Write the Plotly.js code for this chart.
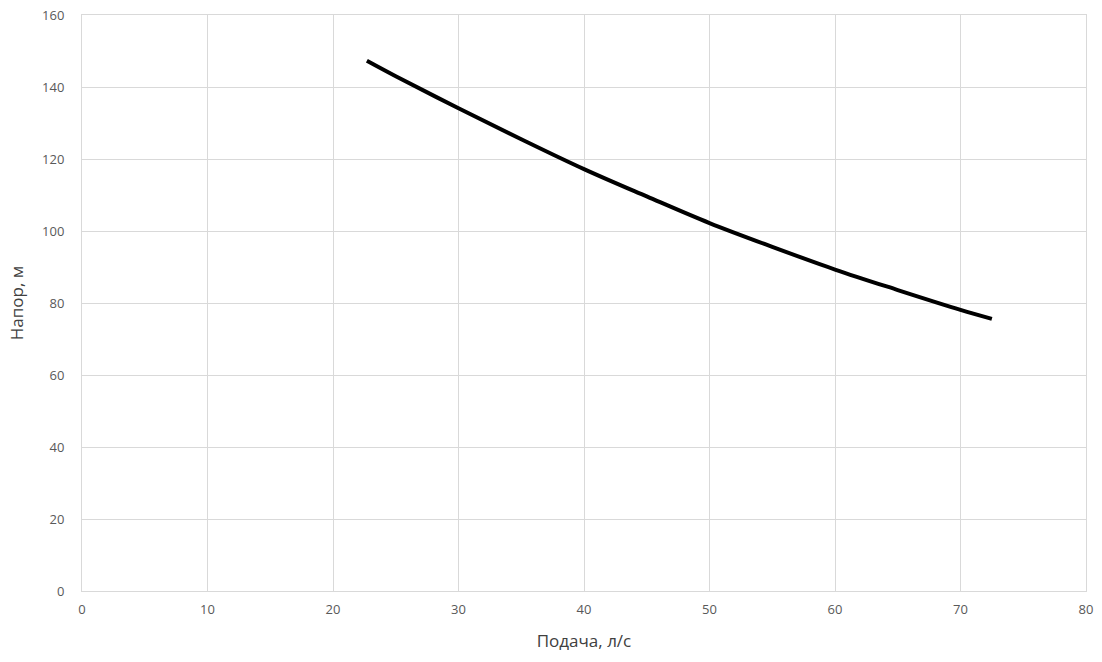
<!DOCTYPE html>
<html>
<head>
<meta charset="utf-8">
<script src="https://cdn.plot.ly/plotly-3.0.1.min.js"></script>
<style>html,body{margin:0;padding:0;background:#fff;}#chart{width:1102px;height:662px;}</style>
</head>
<body>
<div id="chart"></div>
<script>
const flow = [22.7, 25, 30, 35, 40, 45, 50, 55, 60, 65, 70, 72.5];
const head = [147.3, 143.0, 134.1, 125.5, 117.2, 109.6, 102.2, 95.6, 89.3, 83.6, 78.1, 75.6];
const xTitle = 'Подача, л/с';
const yTitle = 'Напор, м';

const grid = '#d9d9d9';
const tickFont = {family: 'Open Sans, sans-serif', size: 13, color: '#595959'};
const titleFont = {family: 'Open Sans, sans-serif', size: 17, color: '#404040'};
Plotly.newPlot('chart', [{
  x: flow, y: head, type: 'scatter', mode: 'lines',
  line: {color: '#000000', width: 4, shape: 'spline', smoothing: 1},
  hoverinfo: 'none'
}], {
  width: 1102, height: 662,
  margin: {l: 82, r: 16, t: 15, b: 71},
  paper_bgcolor: '#ffffff', plot_bgcolor: '#ffffff',
  showlegend: false,
  xaxis: {
    range: [0, 80], dtick: 10, tick0: 0,
    showgrid: true, gridcolor: grid, gridwidth: 1,
    zeroline: false, showline: true, linecolor: grid, mirror: true,
    ticks: '', tickfont: tickFont, ticklabelstandoff: 6,
    title: {text: xTitle, font: titleFont, standoff: 18}
  },
  yaxis: {
    range: [0, 160], dtick: 20, tick0: 0,
    showgrid: true, gridcolor: grid, gridwidth: 1,
    zeroline: false, showline: true, linecolor: grid, mirror: true,
    ticks: '', tickfont: tickFont, ticklabelstandoff: 14,
    title: {text: yTitle, font: titleFont, standoff: 14}
  }
}, {displayModeBar: false, staticPlot: true});
</script>
</body>
</html>
